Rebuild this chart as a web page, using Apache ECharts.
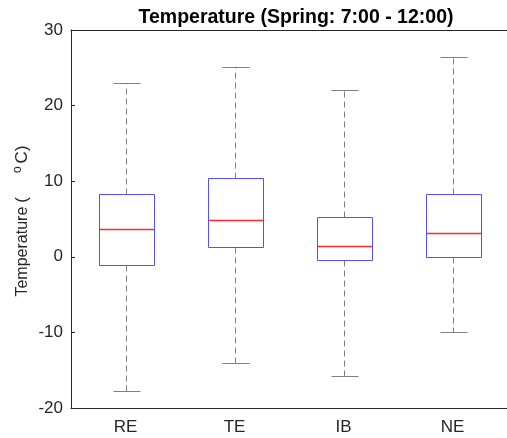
<!DOCTYPE html>
<html>
<head>
<meta charset="UTF-8">
<title>Temperature boxplot</title>
<script src="https://cdn.jsdelivr.net/npm/echarts@6/dist/echarts.min.js"></script>
<style>
  html, body { margin: 0; padding: 0; background: #fff; }
  #chart { width: 507px; height: 438px; }
</style>
</head>
<body>
<div id="chart"></div>
<script>
var categories = ['RE', 'TE', 'IB', 'NE'];
var whiskerLow = [-17.7, -14.0, -15.8, -10.0];
var quart1 = [-1.1, 1.3, -0.4, 0.0];
var medians = [3.7, 4.9, 1.4, 3.1];
var quart3 = [8.3, 10.4, 5.3, 8.3];
var whiskerHigh = [23.0, 25.1, 22.1, 26.4];
var yTicks = [-20, -10, 0, 10, 20, 30];

var FONT = '"Liberation Sans", Arial, Helvetica, sans-serif';
var AXIS = '#262626';

var boxData = [];
for (var i = 0; i < categories.length; i++) {
  boxData.push([i, whiskerLow[i], quart1[i], medians[i], quart3[i], whiskerHigh[i]]);
}

function px(v) { return Math.round(v) + 0.5; }

function renderBox(params, api) {
  var idx = api.value(0);
  var lo = api.coord([idx, api.value(1)]);
  var b1 = api.coord([idx, api.value(2)]);
  var md = api.coord([idx, api.value(3)]);
  var b3 = api.coord([idx, api.value(4)]);
  var hi = api.coord([idx, api.value(5)]);
  var band = api.size([1, 0])[0];
  var cx = px(lo[0]);
  var hw = band * 0.25;
  var cw = band * 0.125;
  var left = px(cx - hw);
  var w = Math.round(2 * hw);
  return {
    type: 'group',
    children: [
      { type: 'line', shape: { x1: cx, y1: px(b3[1]), x2: cx, y2: px(hi[1]) },
        style: { stroke: '#7f7f7f', lineWidth: 1, lineDash: [6, 4] } },
      { type: 'line', shape: { x1: cx, y1: px(b1[1]), x2: cx, y2: px(lo[1]) },
        style: { stroke: '#7f7f7f', lineWidth: 1, lineDash: [6, 4] } },
      { type: 'line', shape: { x1: px(cx - cw), y1: px(hi[1]), x2: px(cx + cw), y2: px(hi[1]) },
        style: { stroke: '#7f7f7f', lineWidth: 1, lineDash: null } },
      { type: 'line', shape: { x1: px(cx - cw), y1: px(lo[1]), x2: px(cx + cw), y2: px(lo[1]) },
        style: { stroke: '#7f7f7f', lineWidth: 1, lineDash: null } },
      { type: 'rect', shape: { x: left, y: px(b3[1]), width: w, height: Math.round(b1[1] - b3[1]) },
        style: { fill: 'none', stroke: '#5050ff', lineWidth: 1, lineDash: null } },
      { type: 'rect', shape: { x: left + 0.5, y: Math.round(md[1]) - 0.25, width: w - 1, height: 1.5 },
        style: { fill: '#ff2a2a', stroke: 'none', lineWidth: 0 } }
    ]
  };
}

var chart = echarts.init(document.getElementById('chart'));
chart.setOption({
  animation: false,
  backgroundColor: '#fff',
  title: {
    text: 'Temperature (Spring: 7:00 - 12:00)',
    left: 291, top: 3, textAlign: 'center',
    textStyle: { fontFamily: FONT, fontSize: 19.5, fontWeight: 'bold', color: '#000' }
  },
  grid: { left: 71, top: 30, right: -5, bottom: 30 },
  xAxis: [{
    type: 'category',
    data: categories,
    position: 'bottom',
    axisLine: { onZero: false, lineStyle: { color: AXIS, width: 1 } },
    axisTick: { inside: true, alignWithLabel: true, length: 4, lineStyle: { color: AXIS } },
    axisLabel: { fontFamily: FONT, fontSize: 17, color: AXIS, margin: 11 },
    splitLine: { show: false }
  }, {
    type: 'category',
    data: categories,
    position: 'top',
    axisLine: { onZero: false, lineStyle: { color: AXIS, width: 1 } },
    axisTick: { inside: true, alignWithLabel: true, length: 4, lineStyle: { color: AXIS } },
    axisLabel: { show: false },
    splitLine: { show: false }
  }],
  yAxis: {
    type: 'value',
    min: yTicks[0], max: yTicks[yTicks.length - 1], interval: 10,
    name: '{t|Temperature}{p|(}{s|o}{c|C)}',
    nameLocation: 'middle',
    nameGap: 38,
    nameMoveOverlap: false,
    nameTextStyle: {
      rich: {
        t: { fontFamily: FONT, fontSize: 16, color: AXIS },
        p: { fontFamily: FONT, fontSize: 17, color: AXIS, padding: [0, 0, 0, 4] },
        s: { fontFamily: FONT, fontSize: 12, color: AXIS, padding: [0, 3, 9, 24] },
        c: { fontFamily: FONT, fontSize: 17, color: AXIS, padding: [0, 4, 0, 0] }
      }
    },
    axisLine: { show: true, onZero: false, lineStyle: { color: AXIS, width: 1 } },
    axisTick: { show: true, inside: true, length: 4, lineStyle: { color: AXIS } },
    axisLabel: { fontFamily: FONT, fontSize: 17, color: AXIS, margin: 8 },
    splitLine: { show: false }
  },
  series: [{
    type: 'custom',
    renderItem: renderBox,
    encode: { x: 0, y: [1, 2, 3, 4, 5] },
    data: boxData,
    silent: true
  }]
});
</script>
</body>
</html>
